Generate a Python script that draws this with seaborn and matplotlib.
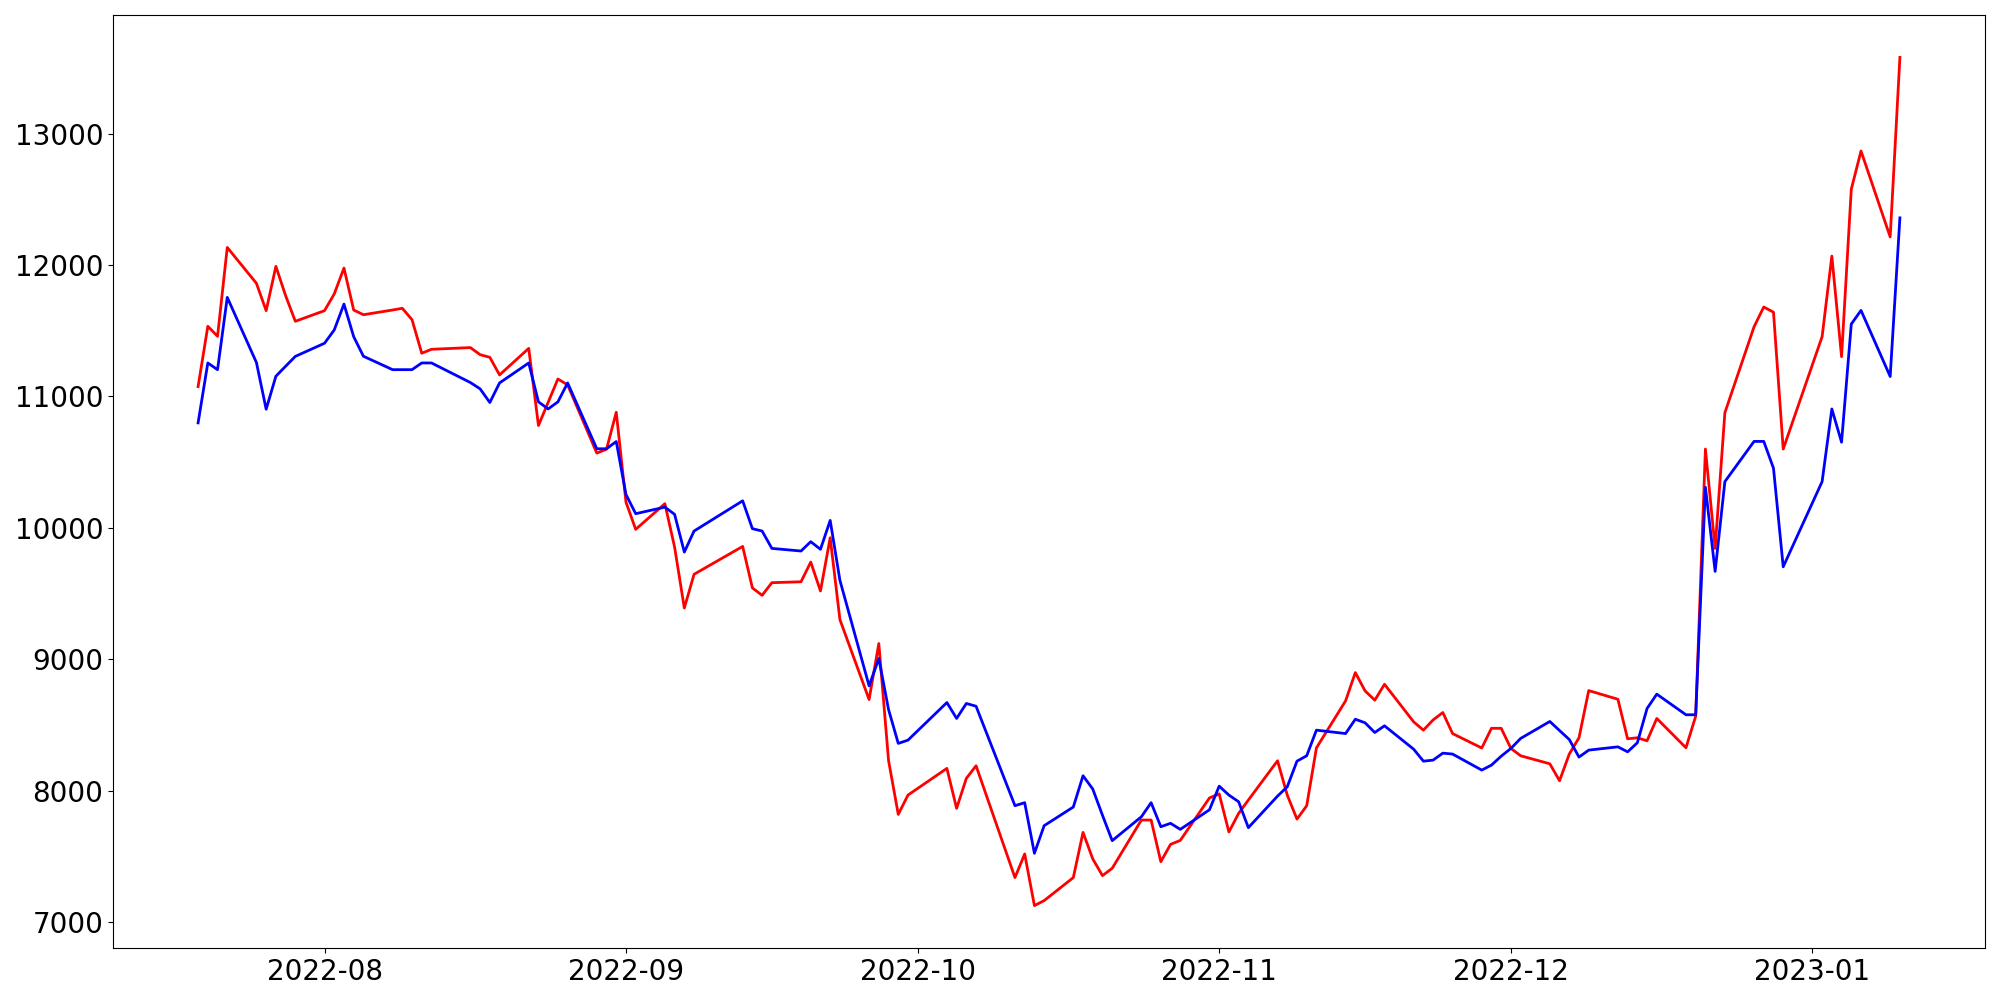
import pandas as pd
import seaborn as sns
import matplotlib
matplotlib.use("Agg")
import matplotlib.pyplot as plt

# trading days (KRX calendar)
dates = [
    "2022-07-19", "2022-07-20", "2022-07-21", "2022-07-22", "2022-07-25", "2022-07-26", "2022-07-27", "2022-07-28", "2022-07-29",
    "2022-08-01", "2022-08-02", "2022-08-03", "2022-08-04", "2022-08-05", "2022-08-08", "2022-08-09", "2022-08-10", "2022-08-11",
    "2022-08-12", "2022-08-16", "2022-08-17", "2022-08-18", "2022-08-19", "2022-08-22", "2022-08-23", "2022-08-24", "2022-08-25",
    "2022-08-26", "2022-08-29", "2022-08-30", "2022-08-31",
    "2022-09-01", "2022-09-02", "2022-09-05", "2022-09-06", "2022-09-07", "2022-09-08", "2022-09-13", "2022-09-14", "2022-09-15",
    "2022-09-16", "2022-09-19", "2022-09-20", "2022-09-21", "2022-09-22", "2022-09-23", "2022-09-26", "2022-09-27", "2022-09-28",
    "2022-09-29", "2022-09-30",
    "2022-10-04", "2022-10-05", "2022-10-06", "2022-10-07", "2022-10-11", "2022-10-12", "2022-10-13", "2022-10-14", "2022-10-17",
    "2022-10-18", "2022-10-19", "2022-10-20", "2022-10-21", "2022-10-24", "2022-10-25", "2022-10-26", "2022-10-27", "2022-10-28",
    "2022-10-31",
    "2022-11-01", "2022-11-02", "2022-11-03", "2022-11-04", "2022-11-07", "2022-11-08", "2022-11-09", "2022-11-10", "2022-11-11",
    "2022-11-14", "2022-11-15", "2022-11-16", "2022-11-17", "2022-11-18", "2022-11-21", "2022-11-22", "2022-11-23", "2022-11-24",
    "2022-11-25", "2022-11-28", "2022-11-29", "2022-11-30",
    "2022-12-01", "2022-12-02", "2022-12-05", "2022-12-06", "2022-12-07", "2022-12-08", "2022-12-09", "2022-12-12", "2022-12-13",
    "2022-12-14", "2022-12-15", "2022-12-16", "2022-12-19", "2022-12-20", "2022-12-21", "2022-12-22", "2022-12-23", "2022-12-26",
    "2022-12-27", "2022-12-28", "2022-12-29",
    "2023-01-02", "2023-01-03", "2023-01-04", "2023-01-05", "2023-01-06", "2023-01-09", "2023-01-10",
]

red_values = [
    11075, 11534, 11458, 12134, 11861, 11653, 11990, 11767, 11572,
    11653, 11780, 11977, 11658, 11622, 11658, 11671, 11584, 11329,
    11359, 11372, 11318, 11298, 11164, 11366, 10779, 10956, 11133,
    11088, 10569, 10599, 10880,
    10196, 9989, 10184, 9854, 9390, 9647, 9859, 9543, 9487,
    9583, 9590, 9740, 9520, 9925, 9302, 8694, 9120, 8230,
    7820, 7967,
    8170, 7866, 8094, 8190, 7339, 7519, 7126, 7164, 7339,
    7683, 7481, 7354, 7410, 7777, 7777, 7460, 7592, 7622,
    7945,
    7976, 7686, 7828, 7929, 8228, 7967, 7784, 7886, 8326,
    8684, 8899, 8760, 8689, 8810, 8524, 8461, 8539, 8595,
    8435, 8325, 8475, 8475,
    8322, 8266, 8205, 8076, 8279, 8403, 8762, 8696, 8395,
    8403, 8380, 8550, 8327, 8567, 10600, 9844, 10876, 11530,
    11681, 11641, 10600,
    11455, 12068, 11303, 12577, 12868, 12214, 13580,
]

blue_values = [
    10799, 11255, 11204, 11754, 11258, 10903, 11154, 11230, 11305,
    11405, 11506, 11703, 11455, 11306, 11204, 11204, 11204, 11255,
    11255, 11106, 11058, 10954, 11103, 11255, 10959, 10905, 10959,
    11103, 10602, 10602, 10657,
    10254, 10108, 10158, 10103, 9816, 9976, 10206, 9994, 9976,
    9844, 9824, 9895, 9837, 10057, 9601, 8798, 9006, 8618,
    8360, 8385,
    8671, 8550, 8664, 8643, 7886, 7909, 7524, 7734, 7876,
    8114, 8013, 7813, 7620, 7802, 7909, 7726, 7752, 7706,
    7855,
    8035, 7967, 7916, 7719, 7959, 8030, 8225, 8266, 8461,
    8435, 8544, 8517, 8443, 8494, 8316, 8225, 8233, 8286,
    8279, 8157, 8195, 8263,
    8322, 8398, 8527, 8458, 8390, 8256, 8309, 8334, 8296,
    8365, 8626, 8735, 8578, 8578, 10309, 9669, 10352, 10658,
    10658, 10454, 9704,
    10352, 10905, 10652, 11551, 11655, 11152, 12359,
]

df = pd.DataFrame({
    "date": pd.to_datetime(dates),
    "red": red_values,
    "blue": blue_values,
})

fig, ax = plt.subplots(figsize=(20, 10), dpi=100)
sns.lineplot(x="date", y="red", data=df, color="red", linewidth=2, ax=ax)
sns.lineplot(x="date", y="blue", data=df, color="blue", linewidth=2, ax=ax)

ax.set_xlabel("")
ax.set_ylabel("")
ax.tick_params(labelsize=20)

plt.subplots_adjust(left=0.0565, right=0.9925, top=0.985, bottom=0.052)
plt.savefig("out.png")
